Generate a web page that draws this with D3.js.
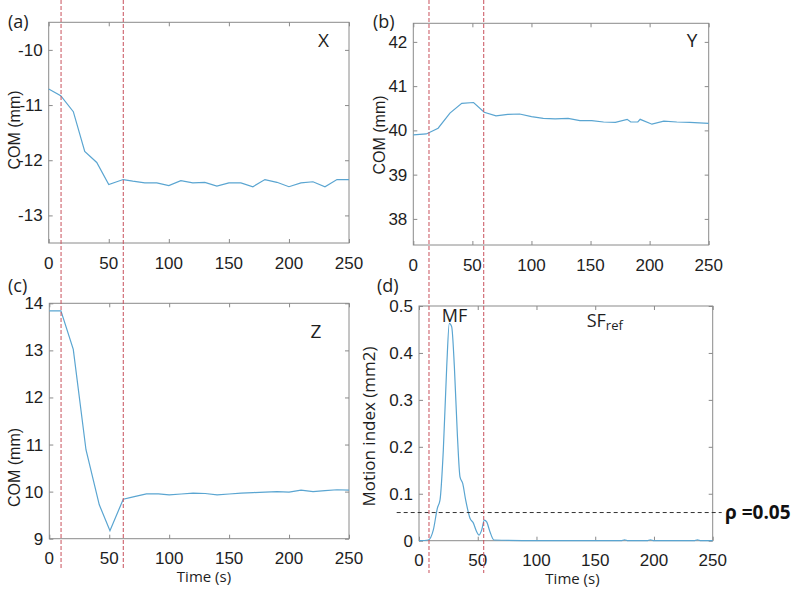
<!DOCTYPE html>
<html><head><meta charset="utf-8">
<script src="https://cdn.jsdelivr.net/npm/d3@7"></script>
<style>body{margin:0;background:#fff}svg{display:block}</style>
</head><body><svg id="c" width="800" height="592"></svg>
<script>
// ---------- data ----------
const xTicks = [0, 50, 100, 150, 200, 250];

const timeA = [0,10,20.5,30,40,50,62,70,80,90,100,110,120,130,140,150,160,170,180,190,200,210,220,230,240,250];
const valA  = [-10.71,-10.83,-11.12,-11.84,-12.04,-12.44,-12.35,-12.38,-12.41,-12.41,-12.46,-12.37,-12.41,-12.40,-12.47,-12.41,-12.41,-12.48,-12.35,-12.40,-12.48,-12.41,-12.39,-12.48,-12.35,-12.35];
const yTicksA = [-13, -12, -11, -10];

const timeB = [0,11,21,31,41,51,60,70,80,90,100,110,120,131,141,151,161,171,181,184,190,192,202,212,223,234,250];
const valB  = [39.90,39.92,40.05,40.39,40.61,40.63,40.41,40.33,40.36,40.37,40.31,40.27,40.26,40.27,40.22,40.22,40.19,40.18,40.25,40.19,40.19,40.25,40.14,40.21,40.19,40.18,40.16];
const yTicksB = [38, 39, 40, 41, 42];

const timeC = [0,9.7,20,30.6,41.7,50.6,61.7,70,81,91,100,110,120,130,140,150,160,170,180,190,200,210,220,230,240,250];
const valC  = [13.84,13.84,13.02,10.89,9.72,9.17,9.84,9.89,9.95,9.95,9.93,9.95,9.97,9.96,9.93,9.95,9.97,9.98,9.99,10.0,9.99,10.03,10.0,10.02,10.04,10.03];
const yTicksC = [9, 10, 11, 12, 13, 14];

const timeD = [0,7.9,12.2,15.6,17.9,20.7,23.6,25.8,27.8,30.1,32.6,34.9,37.2,39.7,43.4,46.2,49.1,51.1,53.4,55.6,57.6,60.4,63.8,100,172,175,178,194,197,200,234,237,240,250];
const valD  = [0,0.0015,0.023,0.069,0.087,0.193,0.371,0.463,0.456,0.371,0.229,0.136,0.122,0.087,0.048,0.038,0.019,0.012,0.023,0.044,0.040,0.019,0.0015,0,0,0.002,0,0,0.002,0,0,0.002,0,0];
const yTicksD = [0, 0.1, 0.2, 0.3, 0.4, 0.5];
const yTickLabelsD = ["0", "0.1", "0.2", "0.3", "0.4", "0.5"];

const threshold = 0.06;            // ρ = 0.05 reference line
const thresholdLabel = "ρ =0.05";
const markersLeft  = [9.8, 61.7];  // red dashed phase boundaries (s), left column
const markersRight = [8.5, 55.1];  // right column

// ---------- drawing ----------
const svg = d3.select("#c");
const BLUE = "#5aa5d1", RED = "#c8505c", BOX = "#8a8a8a", TXT = "#1e1e1e";

function panel(o) {
  const x = d3.scaleLinear().domain([0, 250]).range([o.l, o.r]);
  const y = d3.scaleLinear().domain(o.yDom).range([o.b, o.t]);
  const g = svg.append("g");
  g.append("rect").attr("x", o.l).attr("y", o.t).attr("width", o.r - o.l).attr("height", o.b - o.t)
    .attr("fill", "none").attr("stroke", BOX).attr("stroke-width", 1);
  const ax = (gen, tr) => g.append("g").attr("transform", tr).call(gen);
  const style = sel => { sel.select(".domain").remove(); sel.selectAll("line").attr("stroke", BOX); sel.selectAll("text").remove(); };
  ax(d3.axisBottom(x).tickValues(xTicks).tickSizeInner(-4).tickSizeOuter(0), `translate(0,${o.b})`).call(style);
  ax(d3.axisTop(x).tickValues(xTicks).tickSizeInner(-4).tickSizeOuter(0), `translate(0,${o.t})`).call(style);
  ax(d3.axisLeft(y).tickValues(o.yTicks).tickSizeInner(-4).tickSizeOuter(0), `translate(${o.l},0)`).call(style);
  ax(d3.axisRight(y).tickValues(o.yTicks).tickSizeInner(-4).tickSizeOuter(0), `translate(${o.r},0)`).call(style);
  g.selectAll(".xl").data(xTicks).join("text")
    .attr("x", d => x(d)).attr("y", o.b + 25.5).attr("text-anchor", "middle")
    .attr("font-family", "Liberation Sans, Arial, sans-serif").attr("font-size", 17).attr("fill", TXT)
    .text(d => d);
  g.selectAll(".yl").data(o.yTicks).join("text")
    .attr("x", o.l - 6).attr("y", d => y(d) + 6).attr("text-anchor", "end")
    .attr("font-family", "Liberation Sans, Arial, sans-serif").attr("font-size", 17).attr("fill", TXT)
    .text((d, i) => o.yLabels ? o.yLabels[i] : d);
  const data = o.t_.map((t, i) => [t, o.v_[i]]);
  g.append("path").datum(data)
    .attr("d", d3.line().x(d => x(d[0])).y(d => y(d[1])).curve(o.curve || d3.curveLinear))
    .attr("fill", "none").attr("stroke", BLUE).attr("stroke-width", 1.2);
  return { x, y, g };
}

const pA = panel({ l: 48.7, r: 349, t: 22.3, b: 243, yDom: [-13.5, -9.5], yTicks: yTicksA, t_: timeA, v_: valA });
const pB = panel({ l: 413.3, r: 708.7, t: 23.3, b: 245, yDom: [37.41, 42.42], yTicks: yTicksB, t_: timeB, v_: valB });
const pC = panel({ l: 49.3, r: 349, t: 303.3, b: 538.7, yDom: [9, 14], yTicks: yTicksC, t_: timeC, v_: valC });
const pD = panel({ l: 419, r: 712.7, t: 306, b: 540.7, yDom: [0, 0.5], yTicks: yTicksD, yLabels: yTickLabelsD, t_: timeD, v_: valD, curve: d3.curveMonotoneX });

svg.append("line").attr("x1", 396.7).attr("x2", 721.7)
  .attr("y1", pD.y(threshold)).attr("y2", pD.y(threshold))
  .attr("stroke", "#333").attr("stroke-width", 1).attr("stroke-dasharray", "4,3");
svg.append("text").attr("x", 725).attr("y", pD.y(threshold) + 6.5)
  .attr("font-family", "Open Sans, sans-serif").attr("font-weight", "bold").attr("font-size", 19).attr("fill", "#111")
  .text(thresholdLabel);

markersLeft.forEach(m => svg.append("line").attr("x1", pC.x(m)).attr("x2", pC.x(m)).attr("y1", 0).attr("y2", 570)
  .attr("stroke", RED).attr("stroke-width", 1).attr("stroke-dasharray", "4,2"));
markersRight.forEach(m => svg.append("line").attr("x1", pD.x(m)).attr("x2", pD.x(m)).attr("y1", 0).attr("y2", 573)
  .attr("stroke", RED).attr("stroke-width", 1).attr("stroke-dasharray", "4,2"));

const txt = (s, x, y, size, opts = {}) => svg.append("text").attr("x", x).attr("y", y)
  .attr("font-family", opts.font || "Open Sans, sans-serif").attr("font-size", size)
  .attr("text-anchor", opts.anchor || "start").attr("fill", TXT)
  .attr("transform", opts.rot ? `rotate(-90,${x},${y})` : null).text(s);

txt("(a)", 8, 28, 18); txt("(b)", 373, 28, 18);
txt("(c)", 8, 292, 18); txt("(d)", 377, 292, 18);
txt("X", 323.5, 46.7, 19, { anchor: "middle" });
txt("Y", 692, 47, 19, { anchor: "middle" });
txt("Z", 316, 338.3, 19, { anchor: "middle" });
txt("MF", 454.5, 321.7, 18, { anchor: "middle" });
const sf = txt("SF", 586.7, 326.7, 18);
sf.append("tspan").attr("font-size", 13).attr("dy", 3.5).text("ref");

txt("COM (mm)", 20, 130, 16, { anchor: "middle", rot: true, font: "Liberation Sans, Arial, sans-serif" });
txt("COM (mm)", 385, 135, 16, { anchor: "middle", rot: true, font: "Liberation Sans, Arial, sans-serif" });
txt("COM (mm)", 20, 467.5, 16, { anchor: "middle", rot: true, font: "Liberation Sans, Arial, sans-serif" });
txt("Motion index (mm2)", 375, 426.5, 17, { anchor: "middle", rot: true });
txt("Time (s)", 204, 582, 15, { anchor: "middle" });
txt("Time (s)", 572.5, 584, 15, { anchor: "middle" });
</script>
</body></html>
